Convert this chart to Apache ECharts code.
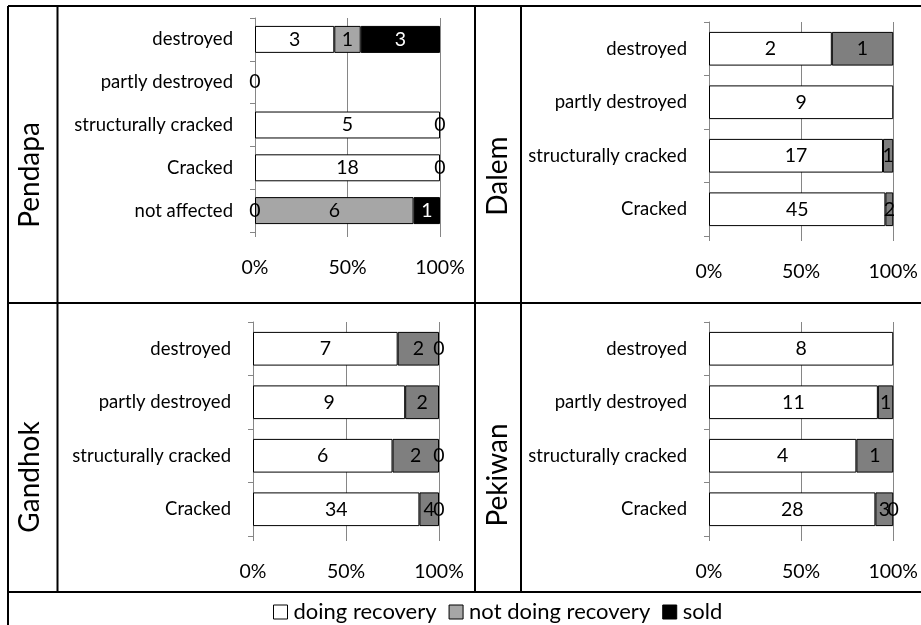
<!DOCTYPE html>
<html><head><meta charset="utf-8">
<script src="https://cdn.jsdelivr.net/npm/echarts@6/dist/echarts.min.js"></script>
<style>html,body{margin:0;padding:0;background:#fff}#c{width:921px;height:625px}</style>
</head><body><div id="c"></div>
<script>
const seriesNames = ['doing recovery', 'not doing recovery', 'sold'];
const categoriesPendapa = ['destroyed', 'partly destroyed', 'structurally cracked', 'Cracked', 'not affected'];
const categoriesOther = ['destroyed', 'partly destroyed', 'structurally cracked', 'Cracked'];
const xTickLabels = ['0%', '50%', '100%'];

const pendapaDoing = [3, 0, 5, 18, 0];
const pendapaNotDoing = [1, null, 0, 0, 6];
const pendapaSold = [3, null, null, null, 1];

const dalemDoing = [2, 9, 17, 45];
const dalemNotDoing = [1, null, 1, 2];
const dalemSold = [null, null, null, null];

const gandhokDoing = [7, 9, 6, 34];
const gandhokNotDoing = [2, 2, 2, 4];
const gandhokSold = [0, null, 0, 0];

const pekiwanDoing = [8, 11, 4, 28];
const pekiwanNotDoing = [null, 1, 1, 3];
const pekiwanSold = [null, null, null, 0];

const FONT = 'Lato';
const panels = [
  {name: 'Pendapa', cats: categoriesPendapa, data: [pendapaDoing, pendapaNotDoing, pendapaSold],
   grid: {left: 255, width: 185, top: 18, height: 214}, gray: '#a6a6a6', lab: [30, 175]},
  {name: 'Dalem', cats: categoriesOther, data: [dalemDoing, dalemNotDoing, dalemSold],
   grid: {left: 709, width: 185, top: 22, height: 214}, gray: '#7f7f7f', lab: [498, 176]},
  {name: 'Gandhok', cats: categoriesOther, data: [gandhokDoing, gandhokNotDoing, gandhokSold],
   grid: {left: 253, width: 186, top: 322, height: 214}, gray: '#7f7f7f', lab: [30, 477]},
  {name: 'Pekiwan', cats: categoriesOther, data: [pekiwanDoing, pekiwanNotDoing, pekiwanSold],
   grid: {left: 709, width: 185, top: 322, height: 214}, gray: '#7f7f7f', lab: [498, 475]}
];

const grids = [], xAxes = [], yAxes = [], series = [], graphics = [];
panels.forEach((p, gi) => {
  grids.push(Object.assign({containLabel: false}, p.grid));
  xAxes.push({
    type: 'value', gridIndex: gi, min: 0, max: 100, interval: 50,
    axisLine: {show: false},
    axisTick: {show: true, length: 5, lineStyle: {color: '#868686'}},
    splitLine: {show: true, lineStyle: {color: '#868686', width: 1}},
    axisLabel: {margin: 26, fontFamily: FONT, fontSize: 19.5, color: '#000',
      formatter: v => xTickLabels[[0, 50, 100].indexOf(v)]}
  });
  yAxes.push({
    type: 'category', gridIndex: gi, data: p.cats, inverse: true,
    axisLine: {show: true, lineStyle: {color: '#868686', width: 1}},
    axisTick: {show: true, length: 5, lineStyle: {color: '#868686'}},
    axisLabel: {margin: 22, fontFamily: FONT, fontSize: 18.5, color: '#000'}
  });
  const totals = p.cats.map((c, i) => p.data.reduce((s, arr) => s + (arr[i] == null ? 0 : arr[i]), 0));
  const colors = ['#ffffff', p.gray, '#000000'];
  p.data.forEach((arr, si) => {
    series.push({
      name: seriesNames[si], type: 'bar', xAxisIndex: gi, yAxisIndex: gi,
      stack: 'st' + gi, barCategoryGap: '37%',
      itemStyle: {color: colors[si], borderColor: '#000', borderWidth: 1},
      label: {show: true, position: 'inside', fontFamily: FONT, fontSize: 19.5,
        color: '#000', textBorderWidth: 0,
        formatter: q => (q.data && q.data.raw != null) ? String(q.data.raw) : ''},
      data: arr.map((v, i) => v == null ? null : {
        value: totals[i] ? v / totals[i] * 100 : 0,
        raw: v,
        itemStyle: v === 0 ? {borderWidth: 0} : undefined,
        label: {color: (si === 2 && v > 0) ? '#fff' : '#000', textBorderWidth: 0}
      }),
      emphasis: {disabled: true}
    });
  });
  graphics.push({type: 'text', x: p.lab[0], y: p.lab[1], rotation: Math.PI / 2,
    style: {text: p.name, fontFamily: FONT, fontSize: 28, fill: '#000', align: 'center', verticalAlign: 'middle'}});
});

const L = (x1, y1, x2, y2) => ({type: 'line', shape: {x1, y1, x2, y2}, style: {stroke: '#000', lineWidth: 2}, silent: true});
graphics.push(L(8, 6, 921, 6), L(8, 6, 8, 625), L(57.5, 6, 57.5, 592), L(475, 6, 475, 592), L(521, 6, 521, 592),
  L(8, 303, 921, 303), L(8, 592, 921, 592));

const chart = echarts.init(document.getElementById('c'), null, {renderer: 'canvas'});
chart.setOption({
  animation: false,
  backgroundColor: '#fff',
  grid: grids, xAxis: xAxes, yAxis: yAxes, series: series,
  legend: {
    data: seriesNames, top: 596, left: 268, icon: 'rect', itemWidth: 14, itemHeight: 14, itemGap: 12,
    itemStyle: {borderColor: '#000', borderWidth: 1},
    textStyle: {fontFamily: FONT, fontSize: 22, color: '#000', padding: [0, 0, 0, 1]}
  },
  graphic: graphics
});
</script></body></html>
